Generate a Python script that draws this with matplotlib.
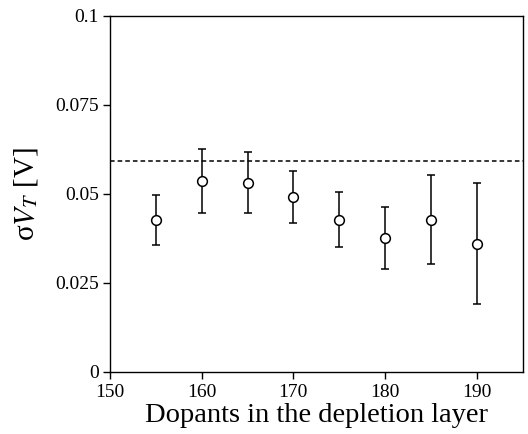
import matplotlib
matplotlib.use("Agg")
import matplotlib.pyplot as plt
import numpy as np

plt.rcParams['font.family'] = ['Liberation Serif', 'DejaVu Serif']
plt.rcParams['mathtext.fontset'] = 'stix'

dopants = [155, 160, 165, 170, 175, 180, 185, 190]
sigma_vt = [0.0428, 0.0537, 0.0532, 0.0492, 0.0428, 0.0376, 0.0427, 0.0360]
err_upper = [0.0498, 0.0627, 0.0619, 0.0565, 0.0505, 0.0463, 0.0552, 0.0530]
err_lower = [0.0356, 0.0447, 0.0447, 0.0419, 0.0352, 0.0289, 0.0302, 0.0192]
reference_level = 0.0592

x_ticks = [150, 160, 170, 180, 190]
y_ticks = [0, 0.025, 0.05, 0.075, 0.1]
y_tick_labels = ['0', '0.025', '0.05', '0.075', '0.1']

fig = plt.figure(figsize=(5.28, 4.34), dpi=100)
ax = fig.add_axes([0.2083, 0.1429, 0.7815, 0.8203])

yv = np.array(sigma_vt)
yerr = [yv - np.array(err_lower), np.array(err_upper) - yv]
ax.errorbar(dopants, sigma_vt, yerr=yerr, fmt='o', mfc='white', mec='black',
            ms=7, mew=1.1, ecolor='black', elinewidth=1.1, capsize=3, capthick=1.1)
ax.axhline(reference_level, color='black', lw=1.1, ls=(0, (3, 2)))

ax.set_xlim(150, 195)
ax.set_ylim(0, 0.1)
ax.set_xticks(x_ticks)
ax.set_yticks(y_ticks)
ax.set_yticklabels(y_tick_labels)
ax.tick_params(direction='out', length=5, width=1, labelsize=14)
ax.tick_params(axis='x', pad=4)
ax.tick_params(axis='y', pad=3)
for s in ax.spines.values():
    s.set_linewidth(1)

ax.set_xlabel('Dopants in the depletion layer', fontsize=20.5, labelpad=1)
ax.set_ylabel('σ$V_T$ [V]', fontsize=21, labelpad=11)

fig.savefig('out.png', dpi=100)
